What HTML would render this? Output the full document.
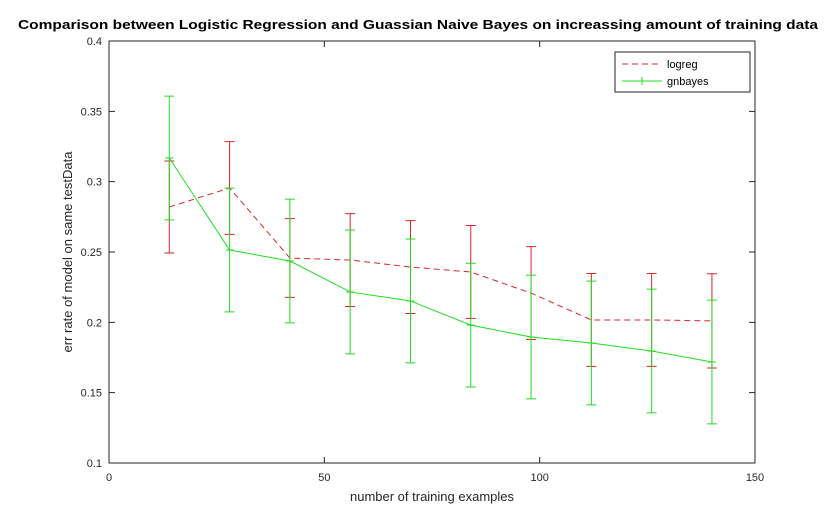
<!DOCTYPE html>
<html><head><meta charset="utf-8"><style>
body{margin:0;background:#fff;}
svg{display:block;font-family:"Liberation Sans",Arial,sans-serif;}
</style></head><body>
<svg id="chart" width="836" height="520">
<rect width="836" height="520" fill="#fff"/>
<text x="418" y="29" text-anchor="middle" font-size="13" font-weight="bold" textLength="800" lengthAdjust="spacingAndGlyphs">Comparison between Logistic Regression and Guassian Naive Bayes on increassing amount of training data</text>
<rect x="109" y="41" width="646" height="422" fill="#fff" stroke="#262626" stroke-width="1"/>
<g id="xt"></g>
<g id="yt"></g>
<text x="432" y="501" text-anchor="middle" font-size="13" fill="#262626">number of training examples</text>
<text transform="translate(72,252) rotate(-90)" text-anchor="middle" font-size="13" fill="#262626">err rate of model on same testData</text>
<g id="series"></g>
<g>
<rect x="615" y="52" width="135" height="40" fill="#fff" stroke="#262626" stroke-width="1"/>
<line x1="622" y1="64" x2="662" y2="64" stroke="#d62728" stroke-dasharray="6,4"/>
<text x="667" y="68" font-size="11">logreg</text>
<line x1="622" y1="81" x2="662" y2="81" stroke="#22dd22"/>
<line x1="642" y1="77" x2="642" y2="85" stroke="#22dd22"/>
<text x="667" y="85" font-size="11">gnbayes</text>
</g>
</svg>
<script>
const xValues=[14,28,42,56,70,84,98,112,126,140];
const logregMean=[0.282,0.2955,0.2457,0.2443,0.2393,0.2358,0.2208,0.2017,0.2017,0.201];
const logregErr=[0.0327,0.033,0.028,0.033,0.033,0.033,0.033,0.033,0.033,0.0335];
const gnbMean=[0.3168,0.2514,0.2436,0.2216,0.2152,0.198,0.1896,0.1853,0.1796,0.1718];
const gnbErr=[0.044,0.044,0.044,0.044,0.044,0.044,0.044,0.044,0.044,0.044];
const xTicks=[0,50,100,150];
const yTicks=[0.1,0.15,0.2,0.25,0.3,0.35,0.4];
const NS='http://www.w3.org/2000/svg';
function sx(v){return 109+(v-0)/150*646;}
function sy(v){return 463-(v-0.1)/0.3*422;}
function mk(tag,attrs,parent){const e=document.createElementNS(NS,tag);for(const k in attrs)e.setAttribute(k,attrs[k]);parent.appendChild(e);return e;}
const xt=document.getElementById('xt'),yt=document.getElementById('yt'),sg=document.getElementById('series');
xTicks.forEach(t=>{
  const l=mk('path',{d:`M${sx(t)},463V457M${sx(t)},41V47`,stroke:'#262626'},xt);
  
  
  const tx=mk('text',{x:sx(t),y:481,'text-anchor':'middle','font-size':11,fill:'#262626'},xt);
  tx.textContent=String(t);
  
  
});
yTicks.forEach(t=>{
  const l=mk('path',{d:`M109,${sy(t)}H115M755,${sy(t)}H749`,stroke:'#262626'},yt);
  
  
  const tx=mk('text',{x:102,y:sy(t)+4,'text-anchor':'end','font-size':11,fill:'#262626'},yt);
  tx.textContent=String(t);
  
  
});
function drawSeries(mean,err,color,dash,name,marker){
  const g=mk('g',{},sg);
  
  
  xValues.forEach((x,i)=>{
    const px=sx(x),t=sy(mean[i]+err[i]),b=sy(mean[i]-err[i]),m=sy(mean[i]);
    let d=`M${px},${t}V${b}M${px-5},${t}H${px+5}M${px-5},${b}H${px+5}`;
    if(marker)d+=`M${px-4},${m}H${px+4}`;
    const e=mk('path',{d:d,stroke:color,fill:'none'},g);
    
    
  });
  const p=mk('polyline',{points:xValues.map((x,i)=>sx(x)+','+sy(mean[i])).join(' '),stroke:color,fill:'none','stroke-dasharray':dash},g);
  
  
}
drawSeries(logregMean,logregErr,'#d62728','6,4','logreg',false);
drawSeries(gnbMean,gnbErr,'#22dd22','none','gnbayes',true);
</script>
</body></html>
